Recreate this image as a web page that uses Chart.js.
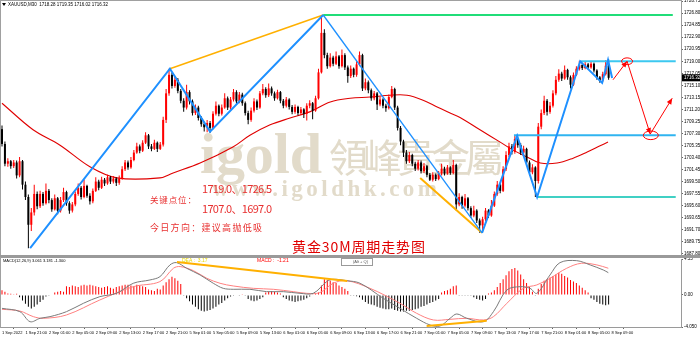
<!DOCTYPE html>
<html>
<head>
<meta charset="utf-8">
<script src="https://cdn.jsdelivr.net/npm/chart.js@4.4.1/dist/chart.umd.min.js"></script>
<style>
  html, body { margin: 0; padding: 0; background: #fff; width: 700px; height: 337px; overflow: hidden; }
  canvas { position: absolute; left: 0; }
  #main { top: 0; }
  #macd { top: 257px; }
</style>
</head>
<body>
<canvas id="main" width="700" height="257"></canvas>
<canvas id="macd" width="700" height="80"></canvas>
<script>
'use strict';

// ─── Candles (XAUUSD M30, one value per bar) ─────────────────────────────────
const firstOpen = 1708.0;
const closes = [
  1705.6, 1702.4, 1702.8, 1702.0, 1702.6, 1700.5, 1702.8, 1699.0, 1697.0, 1692.5,
  1694.5, 1697.5, 1695.5, 1697.5, 1696.0, 1698.0, 1696.5, 1695.0, 1696.8, 1694.8,
  1696.5, 1697.8, 1696.0, 1694.8, 1695.8, 1697.5, 1698.5, 1697.0, 1698.8, 1697.2,
  1696.3, 1698.0, 1699.5, 1698.5, 1699.8, 1699.2, 1700.2, 1699.5, 1700.0, 1699.3,
  1700.0, 1701.5, 1702.6, 1701.8, 1703.0, 1704.2, 1705.2, 1704.5, 1705.8, 1707.0,
  1705.2, 1704.8, 1705.8, 1704.8, 1705.5, 1709.5, 1713.8, 1716.8, 1715.0, 1716.0,
  1714.2, 1712.6, 1711.5, 1714.0, 1712.5, 1710.6, 1711.5, 1709.8, 1708.8, 1708.3,
  1709.0, 1708.2, 1710.5, 1711.8, 1710.5, 1711.5, 1713.0, 1711.5, 1712.8, 1714.0,
  1712.5, 1713.6, 1712.2, 1710.6, 1709.5, 1711.0, 1712.5, 1711.5, 1713.8, 1714.5,
  1713.5, 1714.6, 1713.8, 1713.0, 1714.0, 1712.6, 1711.8, 1712.8, 1711.6, 1710.8,
  1711.6, 1710.6, 1711.2, 1710.5, 1711.8, 1712.2, 1711.0, 1713.0, 1717.2, 1723.6,
  1720.0, 1718.2, 1719.6, 1718.6, 1719.8, 1718.2, 1720.0, 1718.0, 1716.6, 1717.8,
  1716.8, 1718.5, 1720.0, 1714.6, 1715.6, 1714.3, 1713.0, 1713.8, 1712.0, 1712.8,
  1711.8, 1711.4, 1713.2, 1714.5, 1711.5, 1708.2, 1706.0, 1704.2, 1702.8, 1703.8,
  1702.4, 1701.6, 1702.6, 1701.2, 1702.0, 1700.6, 1699.8, 1700.6, 1699.9, 1700.8,
  1701.6, 1700.8, 1701.8, 1700.9, 1702.2, 1695.8, 1697.0, 1695.6, 1696.8, 1695.2,
  1694.0, 1694.8, 1693.2, 1692.4, 1693.4, 1694.8, 1694.0, 1695.6, 1697.5, 1699.0,
  1698.0, 1701.5, 1703.8, 1705.2, 1704.3, 1706.4, 1705.4, 1704.2, 1704.8, 1702.6,
  1701.0, 1701.8, 1699.6, 1708.4, 1710.6, 1712.6, 1710.8, 1711.8, 1713.8, 1716.0,
  1717.0, 1716.2, 1717.6, 1716.4, 1715.2, 1716.8, 1717.8, 1718.4, 1717.9, 1718.5,
  1718.0, 1718.6, 1717.5, 1716.4, 1715.9, 1716.9, 1718.28, 1716.32
];
const highs = [
  1708.6, 1706.0, 1703.3, 1703.0, 1703.0, 1702.9, 1703.5, 1703.0, 1699.5, 1697.4,
  1695.2, 1699.0, 1697.9, 1698.0, 1697.8, 1699.2, 1698.3, 1696.8, 1697.4, 1697.0,
  1697.0, 1698.5, 1698.0, 1696.3, 1696.2, 1697.9, 1699.2, 1698.8, 1699.8, 1699.0,
  1697.6, 1698.4, 1700.2, 1699.8, 1700.3, 1700.1, 1700.6, 1700.4, 1700.4, 1700.2,
  1700.5, 1702.0, 1703.0, 1702.9, 1703.5, 1704.6, 1705.8, 1705.5, 1706.2, 1707.5,
  1707.2, 1705.6, 1706.3, 1706.0, 1705.9, 1710.0, 1714.5, 1717.8, 1717.2, 1716.6,
  1716.3, 1714.5, 1713.0, 1715.2, 1714.3, 1712.8, 1712.0, 1711.8, 1710.1, 1709.2,
  1709.5, 1709.3, 1710.9, 1712.5, 1712.0, 1712.0, 1713.8, 1713.3, 1713.2, 1714.5,
  1714.3, 1714.0, 1713.9, 1712.5, 1711.0, 1711.5, 1713.0, 1712.8, 1714.2, 1715.3,
  1714.8, 1715.4, 1714.9, 1714.1, 1714.4, 1714.2, 1712.9, 1713.2, 1713.0, 1711.9,
  1712.0, 1711.8, 1711.6, 1711.4, 1712.2, 1712.7, 1712.4, 1713.4, 1717.8, 1726.5,
  1724.2, 1720.4, 1720.3, 1719.9, 1720.6, 1720.0, 1720.9, 1720.3, 1718.3, 1718.3,
  1718.0, 1719.0, 1720.6, 1720.2, 1716.2, 1715.9, 1714.6, 1714.2, 1714.0, 1713.3,
  1713.0, 1712.1, 1713.6, 1715.0, 1714.7, 1711.8, 1708.5, 1706.3, 1704.6, 1704.3,
  1704.0, 1702.7, 1703.0, 1702.9, 1702.5, 1702.2, 1700.9, 1701.0, 1700.8, 1701.2,
  1702.4, 1701.9, 1702.2, 1702.0, 1703.0, 1702.4, 1697.6, 1697.2, 1697.5, 1697.0,
  1695.5, 1695.6, 1695.0, 1693.5, 1693.8, 1695.2, 1695.0, 1696.5, 1697.9, 1699.6,
  1699.3, 1702.0, 1704.4, 1705.8, 1705.6, 1706.9, 1706.6, 1705.7, 1705.3, 1705.0,
  1702.9, 1702.3, 1702.0, 1709.0, 1711.2, 1713.4, 1712.9, 1712.4, 1714.3, 1716.6,
  1717.7, 1717.3, 1718.3, 1717.8, 1716.7, 1717.2, 1718.2, 1719.1, 1718.7, 1718.9,
  1718.7, 1718.9, 1718.8, 1717.7, 1716.6, 1717.3, 1719.2, 1719.35
];
const lows = [
  1705.2, 1702.0, 1701.9, 1701.6, 1701.7, 1700.0, 1700.2, 1698.2, 1696.5, 1688.7,
  1691.5, 1694.0, 1695.0, 1695.2, 1695.6, 1695.8, 1696.0, 1694.6, 1694.8, 1694.2,
  1694.5, 1696.2, 1695.6, 1694.3, 1694.5, 1695.5, 1697.2, 1696.6, 1696.8, 1696.9,
  1695.8, 1696.0, 1697.8, 1698.1, 1698.3, 1698.8, 1699.0, 1699.1, 1699.2, 1698.8,
  1699.0, 1699.8, 1701.2, 1701.4, 1701.6, 1702.8, 1704.0, 1704.1, 1704.3, 1705.6,
  1704.8, 1704.4, 1704.6, 1704.3, 1704.6, 1705.2, 1709.0, 1713.4, 1714.6, 1714.7,
  1713.8, 1712.2, 1710.8, 1711.2, 1712.0, 1710.2, 1710.3, 1709.4, 1708.4, 1707.6,
  1707.5, 1707.4, 1708.0, 1710.2, 1710.1, 1710.2, 1711.3, 1711.1, 1711.2, 1712.5,
  1712.1, 1712.2, 1711.8, 1710.2, 1708.8, 1709.2, 1710.7, 1711.1, 1711.3, 1713.5,
  1713.1, 1713.2, 1713.4, 1712.6, 1712.8, 1712.2, 1711.4, 1711.5, 1711.2, 1710.4,
  1710.5, 1710.2, 1710.3, 1709.8, 1709.4, 1711.4, 1709.6, 1710.8, 1712.8, 1717.0,
  1719.5, 1717.8, 1718.0, 1718.2, 1718.4, 1717.8, 1718.0, 1717.6, 1715.5, 1716.3,
  1716.4, 1716.5, 1718.2, 1714.2, 1714.3, 1713.8, 1712.6, 1712.7, 1711.1, 1711.7,
  1711.4, 1710.8, 1711.2, 1713.0, 1711.1, 1707.8, 1705.4, 1703.5, 1702.4, 1702.5,
  1702.0, 1701.2, 1701.3, 1700.8, 1700.9, 1700.2, 1699.6, 1699.5, 1699.6, 1699.7,
  1700.5, 1700.5, 1700.6, 1700.6, 1700.7, 1694.8, 1695.5, 1695.1, 1695.3, 1694.8,
  1693.6, 1693.7, 1692.8, 1691.2, 1691.3, 1693.1, 1693.6, 1693.8, 1695.4, 1697.2,
  1697.6, 1697.8, 1701.2, 1703.5, 1703.9, 1704.0, 1705.0, 1703.8, 1703.9, 1702.2,
  1700.5, 1700.7, 1697.0, 1699.2, 1708.0, 1710.3, 1710.2, 1710.5, 1711.5, 1713.5,
  1715.7, 1715.8, 1716.0, 1716.0, 1714.6, 1715.0, 1716.6, 1717.5, 1717.6, 1717.7,
  1717.7, 1717.8, 1717.2, 1716.0, 1715.5, 1715.7, 1716.7, 1716.02
];

// ─── Overlays on the price panel (bar index, price) ──────────────────────────
const maIdx = [0, 10.6, 19.8, 30, 39.2, 53.9, 58.4, 67.6, 78.8, 84.6, 91.5, 98.3, 105, 112,
  118.8, 125.6, 132.4, 138.2, 143.7, 148.5, 152.9, 156.3, 163.1, 170, 174.4, 179.2, 183.7,
  189.4, 194.9, 199.7, 204.1, 206.8];
const maVal = [1712.2, 1707.9, 1705.4, 1701.9, 1700.1, 1700.1, 1700.9, 1702.5, 1705.1, 1707.0,
  1708.7, 1709.8, 1710.8, 1712.4, 1713.0, 1713.2, 1713.5, 1713.5, 1712.7, 1711.6, 1710.6,
  1709.9, 1707.9, 1705.9, 1704.6, 1703.5, 1702.5, 1702.5, 1703.3, 1704.3, 1705.3, 1705.9];

const zigIdx = [9.6, 57.3, 71, 109.6, 163.8, 175.8, 182.6, 197.3, 204.8, 206.8, 208.2];
const zigVal = [1688.7, 1717.8, 1707.6, 1726.5, 1691.2, 1706.9, 1697.0, 1719.0, 1715.5, 1719.2, 1716.3];

const orangeAIdx = [57.3, 109.6];
const orangeAVal = [1717.8, 1726.5];
const orangeBIdx = [142.7, 163.8];
const orangeBVal = [1700.1, 1691.2];

const levels     = [1726.5, 1719.0, 1707.0, 1697.0];
const levelStart = [109.6, 197.3, 174.7, 182.6];
const levelEnd   = [228.9, 229.9, 229.9, 229.9];

const projIdx = [208.5, 213.3, 221.2, 228.7];
const projVal = [1716.0, 1719.0, 1707.2, 1713.0];
const ringIdx = [213.3, 221.4];
const ringVal = [1719.0, 1707.0];

const priceTicks = [1687.80, 1689.75, 1691.70, 1693.65, 1695.60, 1697.55, 1699.50, 1701.45,
  1703.40, 1705.35, 1707.30, 1709.25, 1711.20, 1713.15, 1715.10, 1717.05, 1719.00, 1720.95,
  1722.90, 1724.85, 1726.80, 1728.75];

// ─── MACD panel ──────────────────────────────────────────────────────────────
const macdHist = [
  0.6, 0.4, 0.2, 0.15, 0.1, 0.15, -0.3,
  -0.7, -1.1, -1.5, -1.7, -1.5, -1.2, -0.9, -0.6,
  -0.2, -0.1, 0.05,
  0.3, 0.4, 0.5, 0.4,
  1.1, 1.0, 1.2, 1.1, 1.0, 1.2, 1.3, 1.2,
  1.3, 1.2, 1.1, 1.0, 0.9,
  1.0, 1.1, 0.9, 0.8, 1.0,
  1.1, 1.2, 1.3, 1.3, 1.2, 1.1, 1.3, 1.2, 1.1, 1.0,
  0.7, 0.6, 0.5, 0.8, 0.7,
  1.2, 1.6, 2.0, 2.3, 2.1, 1.8, 1.4,
  -0.1, -0.4, -0.8, -1.2, -1.5, -1.8, -2.0, -2.1, -2.0, -1.9, -1.7, -1.5, -1.2, -1.0, -0.7, -0.4, -0.2,
  -0.1, 0.05, -0.05, 0.1, -0.1,
  -0.5, -0.7, -0.8, -0.7, -0.5, -0.3,
  0.3, 0.4, 0.5, 0.4, 0.3, 0.2,
  -0.3, -0.5, -0.7, -0.8, -0.9, -0.8, -0.7, -0.6, -0.4, -0.2,
  0.1, 0.2, 0.3, 1.2,
  2.0, 1.9, 1.8, 1.6, 1.5, 1.2, 1.0, 0.8, 0.5,
  -0.1, -0.1, -0.15,
  -0.3, -0.6, -0.9, -1.1, -1.2, -1.3, -1.5, -1.6, -1.7, -1.8, -1.8, -1.7, -1.9, -2.0,
  -2.1, -2.1, -2.0, -2.0, -1.9, -1.8, -1.7, -1.5, -1.4, -1.2, -1.0, -0.9, -0.7, -0.5,
  0.3, 0.5, 0.6, 0.8, 1.1, 1.2,
  -0.1, -0.1, -0.1, -0.1, -0.1,
  -0.3, -0.5, -0.6, -0.7, -0.5,
  0.2, 0.3,
  0.6, 1.0, 1.5, 2.0, 2.5, 3.0, 3.3, 3.4,
  3.1, 2.6, 2.0, 1.5,
  1.0, 0.4, -0.1,
  0.8, 1.4, 1.8, 2.0, 2.2, 2.4, 2.6, 2.8, 2.7,
  2.4, 2.2, 1.9, 1.7, 1.5, 1.2, 0.9, 0.6, 0.3,
  -0.4, -0.6, -0.9, -1.1, -1.2, -1.3, -1.2
];
const difIdx = [0, 6.1, 9.6, 13, 16.4, 22, 27.8, 33.4, 39.1, 44.8, 50.5, 53.9, 57.3, 59.6, 63,
  67.6, 72.1, 75.5, 78.9, 84.6, 90.3, 96, 101.7, 106.2, 110.8, 113, 117.6, 122.2, 130.1, 135.8,
  141.5, 146.1, 149.5, 152.9, 155.2, 158.6, 164.3, 167.7, 172.3, 176.8, 180.2, 182.5, 187,
  190.4, 196.1, 200.7, 205.2, 206.9];
const difVal = [-1.69, -2.11, -3.38, -2.95, -2.74, -2.11, -1.05, -0.21, 0.21, 1.48, 1.9, 2.32,
  3.8, 4.09, 3.38, 2.53, 1.48, 0.84, 0.72, 0.72, 0.42, 0.42, 0.21, 0.21, 1.69, 1.98, 1.81, 1.48,
  -0.42, -1.69, -2.95, -3.8, -3.92, -2.95, -2.4, -2.95, -3.38, -2.11, 0.63, 1.05, 0.84, 0.21,
  2.53, 4.09, 4.34, 3.8, 3.16, 2.82];
const deaIdx = [0, 6.1, 10.7, 14.1, 22, 33.4, 44.8, 53.9, 58.5, 60.8, 65.3, 69.9, 74.4, 78.9,
  85.8, 92.6, 99.4, 104, 108.5, 113, 117.6, 125.6, 135.8, 141.5, 147.2, 152.9, 158.6, 164.3,
  167.7, 172.3, 177.9, 182.5, 187, 192.7, 197.7, 203, 206.9];
const deaVal = [-1.81, -2.03, -2.74, -2.95, -2.53, -0.63, 1.05, 1.69, 3.38, 3.59, 3.08, 2.11,
  1.48, 1.14, 0.84, 0.72, 0.42, 0.21, 0.3, 1.48, 1.81, 0.84, -1.05, -2.32, -3.16, -3.08, -2.95,
  -3.16, -2.74, -1.05, 0.84, 1.27, 2.11, 3.38, 4.01, 3.8, 3.38];
const macdOrangeAIdx = [59.7, 117.8];
const macdOrangeAVal = [4.18, 1.77];
const macdOrangeBIdx = [144.9, 165.4];
const macdOrangeBVal = [-3.92, -3.25];

const macdTicks = [4.55, 0, -4.05];
const macdTickLabels = ['4.55', '0.00', '-4.050'];

const timeLabels = ['1 Sep 2022', '1 Sep 21:00', '2 Sep 01:00', '2 Sep 05:00', '2 Sep 09:00',
  '2 Sep 13:00', '2 Sep 17:00', '2 Sep 21:00', '5 Sep 01:00', '5 Sep 05:00', '5 Sep 09:00',
  '5 Sep 13:00', '6 Sep 01:00', '6 Sep 05:00', '6 Sep 09:00', '6 Sep 13:00', '6 Sep 17:00',
  '6 Sep 21:00', '7 Sep 01:00', '7 Sep 05:00', '7 Sep 09:00', '7 Sep 13:00', '7 Sep 17:00',
  '7 Sep 21:00', '8 Sep 01:00', '8 Sep 05:00', '8 Sep 09:00'];
const BARS_PER_LABEL = 8;

// ─── Shared setup ────────────────────────────────────────────────────────────
const X_MIN = -0.68, X_MAX = 231.7;
const RED = '#ff0000', BLACK = '#000000';
const AXIS_FONT = { family: 'Liberation Sans', size: 4.5 };
const last = closes.length - 1;

const opens = closes.map((c, i) => (i === 0 ? firstOpen : closes[i - 1]));
const bars = closes.map((_, i) => i);
const pts = (xs, ys) => xs.map((x, k) => ({ x, y: ys[k] }));
const upColor = ctx => (closes[ctx.dataIndex] >= opens[ctx.dataIndex] ? RED : BLACK);

function lineSet(data, color, width, order, extra) {
  return Object.assign({
    type: 'line', data, borderColor: color, borderWidth: width,
    pointRadius: 0, fill: false, tension: 0, order
  }, extra || {});
}

// spreads the characters of a string over a given width
function spacedText(c, text, x, y, width) {
  const chars = [...text];
  const ws = chars.map(ch => c.measureText(ch).width);
  const natural = ws.reduce((a, b) => a + b, 0);
  const gap = chars.length > 1 ? (width - natural) / (chars.length - 1) : 0;
  let cx = x;
  chars.forEach((ch, k) => { c.fillText(ch, cx, y); cx += ws[k] + gap; });
}

function arrowHead(c, from, to, len, half) {
  const a = Math.atan2(to[1] - from[1], to[0] - from[0]);
  c.beginPath();
  c.moveTo(to[0], to[1]);
  c.lineTo(to[0] - len * Math.cos(a) + half * Math.sin(a), to[1] - len * Math.sin(a) - half * Math.cos(a));
  c.lineTo(to[0] - len * Math.cos(a) - half * Math.sin(a), to[1] - len * Math.sin(a) + half * Math.cos(a));
  c.closePath();
  c.fill();
}

// ─── Price panel ─────────────────────────────────────────────────────────────
const priceDecor = {
  id: 'priceDecor',
  beforeDatasetsDraw(chart) {
    const c = chart.ctx;
    c.save();
    c.fillStyle = '#e2dbca';
    c.textBaseline = 'alphabetic';
    c.font = 'bold 58px "Liberation Serif"';
    spacedText(c, 'igold', 200, 173, 122);
    c.font = '39px "Noto Sans CJK TC"';
    spacedText(c, '領峰貴金屬', 329, 172, 175);
    c.font = 'bold 23px "Liberation Serif"';
    spacedText(c, 'www.igoldhk.com', 212, 196, 225);
    c.restore();
  },
  afterDatasetsDraw(chart) {
    const c = chart.ctx, xs = chart.scales.x, ys = chart.scales.y;
    const P = (i, v) => [xs.getPixelForValue(i), ys.getPixelForValue(v)];
    c.save();

    // projection arrows and rings
    c.fillStyle = RED;
    c.strokeStyle = RED;
    c.lineWidth = 1;
    for (let k = 1; k < projIdx.length; k++) {
      arrowHead(c, P(projIdx[k - 1], projVal[k - 1]), P(projIdx[k], projVal[k]), 6, 2.6);
    }
    ringIdx.forEach((ix, k) => {
      const [px, py] = P(ix, ringVal[k]);
      c.beginPath();
      c.ellipse(px, py, k === 0 ? 5.5 : 7.5, k === 0 ? 3.4 : 4.3, 0, 0, Math.PI * 2);
      c.stroke();
    });

    // analyst notes
    c.fillStyle = '#e83030';
    c.font = '11px "Noto Sans CJK SC"';
    spacedText(c, '1719.0、1726.5', 202, 193, 70);
    spacedText(c, '1707.0、1697.0', 202, 213, 70);
    c.font = '8.5px "Noto Sans CJK SC"';
    spacedText(c, '关键点位：', 150, 202.5, 46);
    c.font = '9px "Noto Sans CJK SC"';
    spacedText(c, '今日方向：建议高抛低吸', 150, 231, 112);
    c.fillStyle = '#e00000';
    c.font = '14px "Noto Sans CJK SC"';
    spacedText(c, '黄金30M周期走势图', 292, 251.5, 133);

    // header line
    c.fillStyle = '#000';
    c.beginPath();
    c.moveTo(2, 3); c.lineTo(6, 3); c.lineTo(4, 6); c.closePath(); c.fill();
    c.font = '4.5px "Liberation Sans"';
    c.textBaseline = 'middle';
    c.fillText('XAUUSD,M30  ' + opens[last].toFixed(2) + ' ' + highs[last].toFixed(2) + ' ' +
      lows[last].toFixed(2) + ' ' + closes[last].toFixed(2), 8, 5);

    // current price box on the axis
    const py = ys.getPixelForValue(closes[last]);
    c.fillStyle = '#000';
    c.fillRect(682, py - 3.5, 18, 7);
    c.fillStyle = '#fff';
    c.fillText(closes[last].toFixed(2), 684, py + 0.3);

    // frame
    c.fillStyle = '#a0a0a0';
    c.fillRect(0, 0, 682, 1);
    c.fillRect(0, 0, 1, 257);
    c.fillStyle = '#9a9a9a';
    c.fillRect(0, 255, 700, 2);
    c.restore();
  }
};

new Chart(document.getElementById('main'), {
  type: 'bar',
  data: {
    datasets: [
      lineSet(pts(maIdx, maVal), '#e00000', 1.1, 6, { tension: 0.35 }),
      {
        data: bars.map(i => ({ x: i, y: [lows[i], highs[i]] })),
        backgroundColor: upColor, barThickness: 1, grouped: false, order: 5,
        borderWidth: 0, inflateAmount: 0
      },
      {
        data: bars.map(i => ({ x: i, y: [opens[i], closes[i]] })),
        backgroundColor: upColor, barThickness: 2, minBarLength: 1, grouped: false, order: 4,
        borderWidth: 0, inflateAmount: 0
      },
      lineSet(pts([levelStart[0], levelEnd[0]], [levels[0], levels[0]]), '#20dd78', 2, 3),
      lineSet(pts([levelStart[1], levelEnd[1]], [levels[1], levels[1]]), '#3cc8f0', 2, 3),
      lineSet(pts([levelStart[2], levelEnd[2]], [levels[2], levels[2]]), '#30b4f0', 2, 3),
      lineSet(pts([levelStart[3], levelEnd[3]], [levels[3], levels[3]]), '#40d0c4', 2, 3),
      lineSet(pts(orangeAIdx, orangeAVal), '#ffb000', 1.5, 2),
      lineSet(pts(orangeBIdx, orangeBVal), '#ffb000', 2, 2),
      lineSet(pts(zigIdx, zigVal), '#1e90ff', 2, 1, {
        segment: { borderWidth: ctx => (ctx.p0DataIndex === 3 ? 1.3 : 2) }
      }),
      lineSet(pts(projIdx, projVal), RED, 1, 0)
    ]
  },
  options: {
    responsive: false,
    animation: false,
    devicePixelRatio: 1,
    layout: { padding: { left: 0, right: 0, top: 0, bottom: 1 } },
    plugins: { legend: { display: false }, tooltip: { enabled: false } },
    scales: {
      x: { type: 'linear', min: X_MIN, max: X_MAX, offset: false, display: false },
      y: {
        position: 'right',
        min: 1687.44,
        max: 1728.93,
        afterBuildTicks: s => { s.ticks = priceTicks.map(v => ({ value: v })); },
        afterFit: s => { s.width = 19; s.paddingTop = 0; s.paddingBottom = 0; },
        ticks: { font: AXIS_FONT, color: '#000', padding: 1, autoSkip: false, callback: v => v.toFixed(2) },
        grid: { drawOnChartArea: false, tickLength: 2, color: '#666' },
        border: { color: '#9a9a9a', width: 1 }
      }
    }
  },
  plugins: [priceDecor]
});

// ─── MACD panel ──────────────────────────────────────────────────────────────
const macdDecor = {
  id: 'macdDecor',
  afterDatasetsDraw(chart) {
    const c = chart.ctx;
    c.save();
    c.fillStyle = '#9a9a9a';
    c.fillRect(0, 0, 700, 1);
    c.fillStyle = '#a0a0a0';
    c.fillRect(0, 0, 1, 71);
    c.textBaseline = 'middle';
    c.font = '4px "Liberation Sans"';
    c.fillStyle = '#000';
    c.fillText('MACD(12,26,9) 3.061 3.181 -1.300', 3, 4);
    c.font = '5px "Liberation Sans"';
    c.fillStyle = '#e8d800';
    c.fillText('DEA :  3.17', 182, 4);
    c.fillStyle = RED;
    c.fillText('MACD :  -1.21', 257, 4);
    c.strokeStyle = '#9a9a9a';
    c.lineWidth = 1;
    c.strokeRect(341.5, 1.5, 31, 7);
    c.fillStyle = '#555';
    c.font = '4px "Liberation Sans"';
    c.fillText('(Alt + Q)', 353, 5);
    c.restore();
  }
};

new Chart(document.getElementById('macd'), {
  type: 'bar',
  data: {
    datasets: [
      {
        data: bars.map(i => ({ x: i, y: macdHist[i] })),
        backgroundColor: ctx => (macdHist[ctx.dataIndex] >= 0 ? RED : BLACK),
        barThickness: 1, grouped: false, order: 3, borderWidth: 0, inflateAmount: 0
      },
      lineSet(pts(difIdx, difVal), '#7a7a7a', 1, 1, { tension: 0.35 }),
      lineSet(pts(deaIdx, deaVal), '#ff8080', 1, 2, { tension: 0.35 }),
      lineSet(pts(macdOrangeAIdx, macdOrangeAVal), '#ffb000', 2, 0),
      lineSet(pts(macdOrangeBIdx, macdOrangeBVal), '#ffb000', 2, 0)
    ]
  },
  options: {
    responsive: false,
    animation: false,
    devicePixelRatio: 1,
    layout: { padding: { left: 0, right: 0, top: 2, bottom: 0 } },
    plugins: { legend: { display: false }, tooltip: { enabled: false } },
    scales: {
      x: {
        type: 'linear', min: X_MIN, max: X_MAX, offset: false,
        afterBuildTicks: s => { s.ticks = timeLabels.map((_, k) => ({ value: k * BARS_PER_LABEL })); },
        afterFit: s => { s.height = 10; s.paddingLeft = 0; s.paddingRight = 0; },
        ticks: {
          font: { family: 'Liberation Sans', size: 4 }, color: '#000', padding: 1,
          autoSkip: false, maxRotation: 0, minRotation: 0, align: 'start',
          callback: v => timeLabels[Math.round(v / BARS_PER_LABEL)]
        },
        grid: { drawOnChartArea: false, tickLength: 2, color: '#666' },
        border: { color: '#9a9a9a', width: 1 }
      },
      y: {
        position: 'right',
        min: -4.05,
        max: 4.55,
        afterBuildTicks: s => { s.ticks = macdTicks.map(v => ({ value: v })); },
        afterFit: s => { s.width = 19; s.paddingTop = 0; s.paddingBottom = 0; },
        ticks: {
          font: AXIS_FONT, color: '#000', padding: 1, autoSkip: false,
          callback: v => macdTickLabels[macdTicks.indexOf(v)]
        },
        grid: { drawOnChartArea: false, tickLength: 2, color: '#666' },
        border: { color: '#9a9a9a', width: 1 }
      }
    }
  },
  plugins: [macdDecor]
});
</script>
</body>
</html>
